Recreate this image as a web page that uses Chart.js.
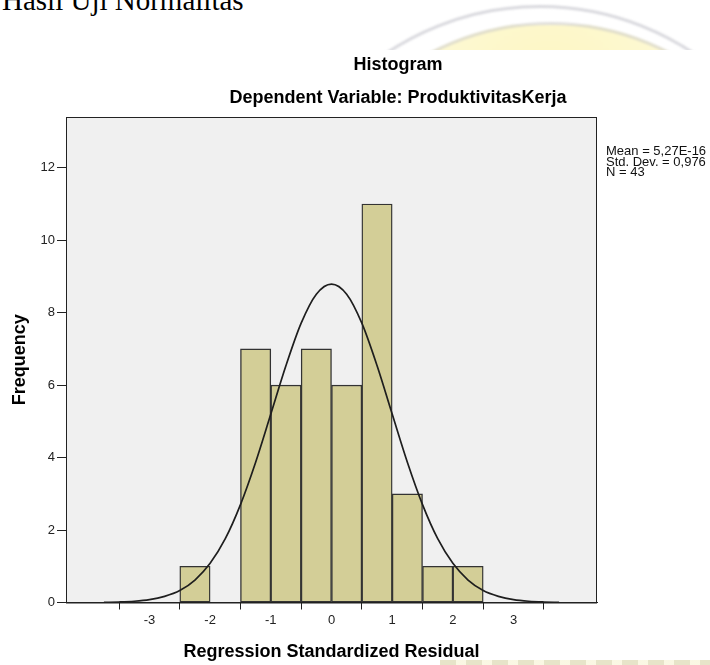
<!DOCTYPE html>
<html>
<head>
<meta charset="utf-8">
<title>Histogram</title>
<script src="https://cdn.jsdelivr.net/npm/chart.js@4.4.1/dist/chart.umd.min.js"></script>
<style>
  html, body { margin: 0; padding: 0; background: #fff; }
  body { width: 710px; height: 665px; position: relative; overflow: hidden; }
  #heading { position: absolute; left: 2px; top: -14px; font: 29px 'Liberation Serif', 'Times New Roman', serif; line-height: 29px; color: #000; white-space: nowrap; }
  #markTop { position: absolute; left: 0; top: 0; width: 710px; height: 50px; overflow: hidden; }
  .ring { position: absolute; border-radius: 50%; filter: blur(0.8px); }
  #ringOuter { left: 263px; top: 5px; width: 548px; height: 548px; border: 3px solid rgba(185, 185, 195, 0.55); }
  #ringInner { left: 292px; top: 22px; width: 510px; height: 510px; border: 3px solid rgba(195, 195, 200, 0.5);
    background: radial-gradient(circle at 50% 15%, #fdf6bf 0%, #fefadb 35%, #fffdf0 70%); }
  #markBottom { position: absolute; left: 440px; top: 660px; width: 270px; height: 5px;
    background: repeating-linear-gradient(90deg, rgba(215, 210, 165, 0.6) 0 16px, rgba(245, 240, 200, 0.5) 16px 26px); }
  #chartBox { position: absolute; left: 0; top: 50px; width: 710px; height: 615px; }
</style>
</head>
<body>
<div id="markTop"><div class="ring" id="ringOuter"></div><div class="ring" id="ringInner"></div></div>
<div id="markBottom"></div>
<div id="heading">Hasil Uji Normalitas</div>
<div id="chartBox"><canvas id="histChart"></canvas></div>
<script>
// bins of width 0.5 (centres) and counts
const binCenters = [-2.25, -1.25, -0.75, -0.25, 0.25, 0.75, 1.25, 1.75, 2.25];
const frequencies = [1, 7, 6, 7, 6, 11, 3, 1, 1];

// normal curve
const curveX = [-3.75, -3.5, -3.25, -3, -2.75, -2.5, -2.25, -2, -1.75, -1.5, -1.25, -1, -0.75, -0.5, -0.25,
  0, 0.25, 0.5, 0.75, 1, 1.25, 1.5, 1.75, 2, 2.25, 2.5, 2.75, 3, 3.25, 3.5, 3.75];
const curveY = [0.005, 0.014, 0.034, 0.078, 0.17, 0.33, 0.62, 1.08, 1.76, 2.70, 3.87, 5.20, 6.54, 7.71, 8.51,
  8.79, 8.51, 7.71, 6.54, 5.20, 3.87, 2.70, 1.76, 1.08, 0.62, 0.33, 0.17, 0.078, 0.034, 0.014, 0.005];

const xTickValues = [-3, -2, -1, 0, 1, 2, 3];
const yTickValues = [0, 2, 4, 6, 8, 10, 12];

const chartTitle = 'Histogram';
const chartSubtitle = 'Dependent Variable: ProduktivitasKerja';
const statLines = ['Mean = 5,27E-16', 'Std. Dev. = 0,976', 'N = 43'];

const FONT = "'Liberation Sans', Arial, sans-serif";

// grey plot background, full frame, titles and the stats box
const spssDecor = {
    id: 'spssDecor',
    beforeDraw(chart) {
        const { ctx, chartArea: a } = chart;
        ctx.save();
        ctx.fillStyle = '#f0f0f0';
        ctx.fillRect(a.left, a.top, a.right - a.left, a.bottom - a.top);
        ctx.restore();
    },
    afterDraw(chart) {
        const { ctx, chartArea: a } = chart;
        ctx.save();
        ctx.strokeStyle = '#222';
        ctx.lineWidth = 1;
        ctx.strokeRect(a.left + 0.5, a.top + 0.5, a.right - a.left - 1, a.bottom - a.top);

        ctx.fillStyle = '#000';
        ctx.textAlign = 'center';
        ctx.textBaseline = 'alphabetic';
        ctx.font = 'bold 18px ' + FONT;
        ctx.fillText(chartTitle, 398, a.top - 47);
        ctx.fillText(chartSubtitle, 398, a.top - 14);

        ctx.textAlign = 'left';
        ctx.font = '13px ' + FONT;
        ctx.fillStyle = '#111';
        statLines.forEach((line, i) => {
            ctx.fillText(line, a.right + 9, a.top + 38 + i * 10.5);
        });
        ctx.restore();
    }
};

new Chart(document.getElementById('histChart'), {
    type: 'bar',
    data: {
        datasets: [
            {
                type: 'line',
                data: curveX.map((x, i) => ({ x: x, y: curveY[i] })),
                borderColor: '#1e1e1e',
                borderWidth: 1.7,
                pointRadius: 0,
                fill: false,
                cubicInterpolationMode: 'monotone',
                order: 1
            },
            {
                type: 'bar',
                data: binCenters.map((x, i) => ({ x: x, y: frequencies[i] })),
                backgroundColor: '#d3ce97',
                borderColor: '#333',
                borderWidth: 1.4,
                borderSkipped: false,
                barPercentage: 1,
                categoryPercentage: 1,
                order: 2
            }
        ]
    },
    options: {
        responsive: true,
        maintainAspectRatio: false,
        animation: false,
        layout: { padding: { top: 67, right: 113, bottom: 0, left: 0 } },
        plugins: {
            legend: { display: false },
            tooltip: { enabled: false }
        },
        scales: {
            x: {
                type: 'linear',
                min: -3.75,
                max: 3.75,
                afterBuildTicks: s => { s.ticks = xTickValues.map(v => ({ value: v })); },
                afterFit: s => { s.height = 62.5; },
                grid: { drawOnChartArea: false, drawTicks: true, tickLength: 7, tickColor: '#222' },
                border: { display: true, color: '#222', width: 1 },
                ticks: { color: '#222', font: { family: FONT, size: 13 }, padding: 3, maxRotation: 0, autoSkip: false },
                title: {
                    display: true,
                    text: 'Regression Standardized Residual',
                    color: '#000',
                    font: { family: FONT, size: 18, weight: 'bold' },
                    padding: { top: 0, bottom: 2 }
                }
            },
            y: {
                min: 0,
                max: 13.4,
                afterBuildTicks: s => { s.ticks = yTickValues.map(v => ({ value: v })); },
                afterFit: s => { s.width = 66; },
                grid: { drawOnChartArea: false, drawTicks: true, tickLength: 9, tickColor: '#222' },
                border: { display: true, color: '#222', width: 1 },
                ticks: { color: '#222', font: { family: FONT, size: 13 }, padding: 2 },
                title: {
                    display: true,
                    text: 'Frequency',
                    color: '#000',
                    font: { family: FONT, size: 18, weight: 'bold' },
                    padding: { top: 9, bottom: 0 }
                }
            }
        }
    },
    plugins: [spssDecor]
});
</script>
</body>
</html>
